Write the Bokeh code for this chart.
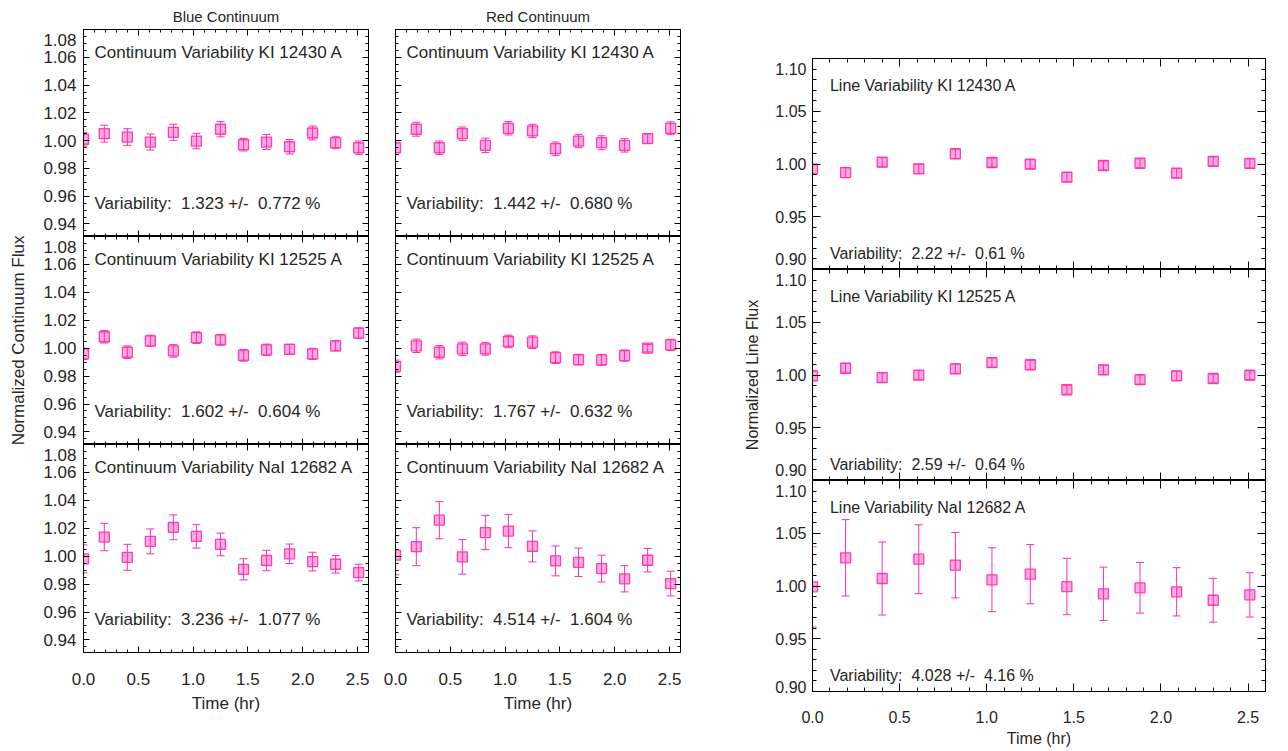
from bokeh.plotting import figure
from bokeh.layouts import row, column
from bokeh.models import (FixedTicker, LinearAxis, Range1d, Label, CustomJSTickFormatter,
                          NumeralTickFormatter, ColumnDataSource)
from bokeh.embed import file_html
from bokeh.resources import INLINE

# ---------------- data ----------------
time_hr = [0.00, 0.19, 0.40, 0.61, 0.82, 1.03, 1.25, 1.46, 1.67, 1.88, 2.09, 2.30, 2.51]

blue_ki12430 = [1.0010, 1.0050, 1.0026, 0.9990, 1.0060, 0.9997, 1.0082, 0.9971, 0.9990, 0.9956, 1.0055, 0.9985, 0.9949]
blue_ki12430_err = [0.0050, 0.0061, 0.0060, 0.0058, 0.0058, 0.0055, 0.0055, 0.0045, 0.0054, 0.0052, 0.0050, 0.0043, 0.0048]
blue_ki12525 = [0.9959, 1.0082, 0.9971, 1.0053, 0.9981, 1.0075, 1.0060, 0.9949, 0.9988, 0.9992, 0.9959, 1.0017, 1.0108]
blue_ki12525_err = [0.0040, 0.0045, 0.0045, 0.0040, 0.0045, 0.0042, 0.0038, 0.0042, 0.0041, 0.0036, 0.0040, 0.0036, 0.0038]
blue_nai12682 = [0.9981, 1.0137, 0.9992, 1.0106, 1.0207, 1.0142, 1.0084, 0.9906, 0.9969, 1.0017, 0.9961, 0.9942, 0.9882]
blue_nai12682_err = [0.0100, 0.0098, 0.0093, 0.0089, 0.0089, 0.0084, 0.0081, 0.0076, 0.0073, 0.0070, 0.0067, 0.0063, 0.0060]

red_ki12430 = [0.9949, 1.0082, 0.9949, 1.0050, 0.9966, 1.0089, 1.0070, 0.9942, 0.9997, 0.9985, 0.9966, 1.0014, 1.0089]
red_ki12430_err = [0.0050, 0.0050, 0.0048, 0.0048, 0.0052, 0.0048, 0.0048, 0.0048, 0.0048, 0.0050, 0.0048, 0.0034, 0.0046]
red_ki12525 = [0.9870, 1.0017, 0.9971, 0.9995, 0.9995, 1.0048, 1.0043, 0.9932, 0.9918, 0.9916, 0.9947, 1.0000, 1.0024]
red_ki12525_err = [0.0045, 0.0048, 0.0048, 0.0048, 0.0045, 0.0045, 0.0045, 0.0042, 0.0038, 0.0038, 0.0040, 0.0027, 0.0040]
red_nai12682 = [1.0007, 1.0068, 1.0258, 0.9995, 1.0169, 1.0180, 1.0070, 0.9966, 0.9956, 0.9911, 0.9838, 0.9971, 0.9804]
red_nai12682_err = [0.0140, 0.0136, 0.0133, 0.0124, 0.0122, 0.0119, 0.0111, 0.0107, 0.0102, 0.0096, 0.0094, 0.0084, 0.0089]

line_ki12430 = [0.9951, 0.9919, 1.0017, 0.9954, 1.0097, 1.0014, 0.9998, 0.9875, 0.9986, 1.0007, 0.9913, 1.0024, 1.0005]
line_ki12430_err = [0.0045, 0.0047, 0.0044, 0.0044, 0.0045, 0.0044, 0.0043, 0.0044, 0.0043, 0.0044, 0.0044, 0.0043, 0.0043]
line_ki12525 = [0.9992, 1.0064, 0.9976, 0.9998, 1.0059, 1.0118, 1.0097, 0.9860, 1.0049, 0.9957, 0.9992, 0.9967, 0.9998]
line_ki12525_err = [0.0045, 0.0046, 0.0045, 0.0044, 0.0045, 0.0044, 0.0044, 0.0043, 0.0044, 0.0044, 0.0043, 0.0043, 0.0043]
line_nai12682 = [0.9992, 1.0267, 1.0071, 1.0254, 1.0197, 1.0059, 1.0112, 0.9995, 0.9926, 0.9983, 0.9945, 0.9865, 0.9916]
line_nai12682_err = [0.0380, 0.0362, 0.0346, 0.0326, 0.0310, 0.0303, 0.0281, 0.0267, 0.0253, 0.0240, 0.0229, 0.0207, 0.0210]

cont_names = ["Continuum Variability KI 12430 A", "Continuum Variability KI 12525 A",
              "Continuum Variability NaI 12682 A"]
line_names = ["Line Variability KI 12430 A", "Line Variability KI 12525 A",
              "Line Variability NaI 12682 A"]
NB = "\u00a0"
blue_var = ["Variability: " + NB + "1.323 +/- " + NB + "0.772 %",
            "Variability: " + NB + "1.602 +/- " + NB + "0.604 %",
            "Variability: " + NB + "3.236 +/- " + NB + "1.077 %"]
red_var = ["Variability: " + NB + "1.442 +/- " + NB + "0.680 %",
           "Variability: " + NB + "1.767 +/- " + NB + "0.632 %",
           "Variability: " + NB + "4.514 +/- " + NB + "1.604 %"]
line_var = ["Variability: " + NB + "2.22 +/- " + NB + "0.61 %",
            "Variability: " + NB + "2.59 +/- " + NB + "0.64 %",
            "Variability: " + NB + "4.028 +/- " + NB + "4.16 %"]

x_ticks = [0.0, 0.5, 1.0, 1.5, 2.0, 2.5]
x_minor = [round(0.1 * i, 1) for i in range(27)]
cont_ticks = [0.94, 0.96, 0.98, 1.00, 1.02, 1.04, 1.06, 1.08]
cont_minor = [round(0.935 + 0.005 * i, 3) for i in range(30)]
line_ticks = [0.90, 0.95, 1.00, 1.05, 1.10]
line_minor = [round(0.90 + 0.01 * i, 2) for i in range(21)]

# ---------------- style ----------------
FONT = "Liberation Sans"
TXT = "#262626"
EDGE = "#ff2fa8"
FILL = "#ff99dd"


def ticks_only(ax, ticks, minor, tin, mtin):
    ax.ticker = FixedTicker(ticks=ticks, minor_ticks=minor)
    ax.axis_line_color = "black"
    ax.major_tick_line_color = "black"
    ax.minor_tick_line_color = "black"
    ax.major_tick_in = tin
    ax.major_tick_out = 0
    ax.minor_tick_in = mtin
    ax.minor_tick_out = 0
    ax.formatter = CustomJSTickFormatter(code="return ''")
    ax.major_label_text_font_size = "0px"
    ax.major_label_standoff = 0


def style_label(ax, fsize, standoff):
    ax.major_label_text_font = FONT
    ax.major_label_text_font_size = fsize
    ax.major_label_text_color = TXT
    ax.major_label_standoff = standoff


def style_title(ax, text, fsize, standoff):
    ax.axis_label = text
    ax.axis_label_text_font = FONT
    ax.axis_label_text_font_size = fsize
    ax.axis_label_text_font_style = "normal"
    ax.axis_label_text_color = TXT
    ax.axis_label_standoff = standoff


def panel(vals, errs, yr, yticks, yminor, width, height, mb, show_y, show_x, fsize,
          tin, mtin, name, var, name_y, var_y, title=None, ylabel=None, ylab_standoff=0,
          shifts=None, x_std=14, xlab_std=7, y_std=7):
    p = figure(width=width, height=height, x_range=Range1d(0, 2.6), y_range=Range1d(*yr),
               output_backend="svg", toolbar_location=None,
               min_border_left=mb[0], min_border_right=mb[1],
               min_border_top=mb[2], min_border_bottom=mb[3])
    p.grid.visible = False
    p.outline_line_color = "black"
    p.outline_line_width = 1
    p.background_fill_color = "white"
    p.border_fill_color = "white"
    if title:
        p.title.text = title
        p.title.align = "center"
        p.title.text_font = FONT
        p.title.text_font_size = "15px"
        p.title.text_font_style = "normal"
        p.title.text_color = TXT
        p.title.standoff = 9
    right = LinearAxis()
    top = LinearAxis()
    p.add_layout(right, "right")
    p.add_layout(top, "above")
    # tick marks on all four sides, pointing inwards
    ticks_only(p.left[0], yticks, yminor, tin, mtin)
    ticks_only(right, yticks, yminor, tin, mtin)
    ticks_only(top, x_ticks, x_minor, tin, mtin)
    bottom = p.below[0]
    if show_x:
        bottom.ticker = FixedTicker(ticks=x_ticks, minor_ticks=x_minor)
        bottom.formatter = NumeralTickFormatter(format="0.0")
        for k in ("major_tick_in", "minor_tick_in"):
            pass
        bottom.axis_line_color = "black"
        bottom.major_tick_line_color = "black"
        bottom.minor_tick_line_color = "black"
        bottom.major_tick_in = tin
        bottom.major_tick_out = 0
        bottom.minor_tick_in = mtin
        bottom.minor_tick_out = 0
        style_label(bottom, fsize, x_std)
        style_title(bottom, "Time (hr)", fsize, xlab_std)
    else:
        ticks_only(bottom, x_ticks, x_minor, tin, mtin)

    if show_y:
        # separate label axis: edge labels sit just inside the panel, as in the original
        pos = [shifts.get(t, t) for t in yticks]
        lab = LinearAxis(ticker=FixedTicker(ticks=pos, minor_ticks=[]),
                         formatter=NumeralTickFormatter(format="0.00"))
        lab.major_label_overrides = {shifts[t]: "%.2f" % t for t in shifts}
        lab.axis_line_color = None
        lab.major_tick_line_color = None
        lab.minor_tick_line_color = None
        lab.major_tick_in = 0
        lab.major_tick_out = 0
        lab.minor_tick_in = 0
        lab.minor_tick_out = 0
        style_label(lab, fsize, y_std)
        if ylabel:
            style_title(lab, ylabel, fsize, ylab_standoff)
        p.add_layout(lab, "left")

    src = ColumnDataSource(dict(t=time_hr, y=vals,
                                lo=[v - e for v, e in zip(vals, errs)],
                                hi=[v + e for v, e in zip(vals, errs)]))
    p.scatter(x="t", y="y", marker="square", size=10, fill_color=FILL, fill_alpha=0.85,
              line_color=EDGE, line_width=1.3, line_alpha=0.9, source=src)
    p.segment(x0="t", y0="lo", x1="t", y1="hi", line_color=EDGE, line_width=1, source=src)
    p.scatter(x="t", y="lo", marker="dash", size=8, line_color=EDGE, line_width=1, source=src)
    p.scatter(x="t", y="hi", marker="dash", size=8, line_color=EDGE, line_width=1, source=src)

    p.add_layout(Label(x=0.1, y=name_y, text=name, text_font=FONT, text_font_size=fsize,
                       text_color=TXT, text_baseline="middle"))
    p.add_layout(Label(x=0.1, y=var_y, text=var, text_font=FONT, text_font_size=fsize,
                       text_color=TXT, text_baseline="middle"))
    return p


cont_yr = (0.931, 1.08)
line_yr = (0.90, 1.10)
# label positions (in axis units) of the tick labels that sit at a panel edge
cont_shift = {1.08: 1.0728}
line_shift_top = {1.10: 1.0905, 0.90: 0.9095}
line_shift_bot = {1.10: 1.0905, 0.90: 0.9047}

blue = [blue_ki12430, blue_ki12525, blue_nai12682]
blue_e = [blue_ki12430_err, blue_ki12525_err, blue_nai12682_err]
red = [red_ki12430, red_ki12525, red_nai12682]
red_e = [red_ki12430_err, red_ki12525_err, red_nai12682_err]
line = [line_ki12430, line_ki12525, line_nai12682]
line_e = [line_ki12430_err, line_ki12525_err, line_nai12682_err]

colA, colB, colC = [], [], []
for i in range(3):
    top_b = 29 if i == 0 else 0
    bot_b = 65 if i == 2 else 0
    fh = 207 if i == 0 else 208
    h = top_b + fh + bot_b
    colA.append(panel(blue[i], blue_e[i], cont_yr, cont_ticks, cont_minor, 380, h,
                      (83, 12, top_b, bot_b), True, i == 2, "17px", 6, 3,
                      cont_names[i], blue_var[i], 1.0637, 0.9548,
                      title="Blue Continuum" if i == 0 else None,
                      ylabel="Normalized Continuum Flux" if i == 1 else None,
                      ylab_standoff=12, shifts=cont_shift,
                      x_std=20, xlab_std=6, y_std=7))
    colB.append(panel(red[i], red_e[i], cont_yr, cont_ticks, cont_minor, 310, h,
                      (15, 10, top_b, bot_b), False, i == 2, "17px", 6, 3,
                      cont_names[i], red_var[i], 1.0637, 0.9548,
                      title="Red Continuum" if i == 0 else None,
                      x_std=20, xlab_std=6))
    top_c = 58 if i == 0 else 0
    bot_c = 59 if i == 2 else 0
    colC.append(panel(line[i], line_e[i], line_yr, line_ticks, line_minor, 595,
                      top_c + 211 + bot_c, (122, 20, top_c, bot_c), True, i == 2, "16px", 8, 4,
                      line_names[i], line_var[i], 1.0744, 0.9155,
                      ylabel="Normalized Line Flux" if i == 1 else None,
                      ylab_standoff=11,
                      shifts=line_shift_bot if i == 2 else line_shift_top,
                      x_std=19, xlab_std=4, y_std=6))

layout = row(column(*colA), column(*colB), column(*colC))
open("out.html", "w").write(file_html(layout, INLINE))
